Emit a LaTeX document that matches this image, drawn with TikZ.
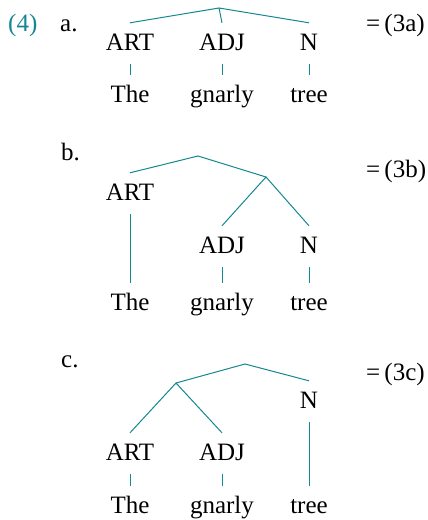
\documentclass[tikz,border=0pt]{standalone}
\usepackage{fontspec}
\setmainfont{Liberation Serif}
\usepackage{xcolor}
\definecolor{exteal}{RGB}{20,135,145}

\begin{document}
\begin{tikzpicture}[
  x=1pt, y=-1pt,
  lbl/.style = {anchor=base, font=\fontsize{25}{28}\selectfont,
                text height=17pt, text depth=4pt, inner xsep=0pt, inner ysep=10pt},
  tag/.style = {anchor=base west, font=\fontsize{25}{28}\selectfont, inner sep=0pt},
  branch/.style = {draw=exteal, line width=1pt}
]
\useasboundingbox (0,0) rectangle (428,520);

% (4a)
\node[tag, text=exteal] (ex) at (8,31) {(4)};
\node[tag] (lab-a) at (60,31) {a.};
\node[tag] (ref-a) at (366,31) {=\,(3a)};
\coordinate (top-a) at (219,8);
\node[lbl] (art-a) at (130,50) {ART};
\node[lbl] (adj-a) at (222,50) {ADJ};
\node[lbl] (n-a) at (309,50) {N};
\node[lbl] (the-a) at (130,102) {The};
\node[lbl] (gn-a) at (222,102) {gnarly};
\node[lbl] (tree-a) at (309,102) {tree};
\draw[branch] (art-a.north) -- (top-a) -- (n-a.north);
\draw[branch] (top-a) -- (adj-a.north);
\draw[branch] (art-a) -- (the-a);
\draw[branch] (adj-a) -- (gn-a);
\draw[branch] (n-a) -- (tree-a);

% (4b)
\node[tag] (lab-b) at (61,160) {b.};
\node[tag] (ref-b) at (366,177) {=\,(3b)};
\coordinate (top-b) at (198,156);
\coordinate (mid-b) at (266,177);
\node[lbl] (art-b) at (130,200) {ART};
\node[lbl] (adj-b) at (222,253) {ADJ};
\node[lbl] (n-b) at (309,253) {N};
\node[lbl] (the-b) at (130,310) {The};
\node[lbl] (gn-b) at (222,310) {gnarly};
\node[lbl] (tree-b) at (309,310) {tree};
\draw[branch] (art-b.north) -- (top-b) -- (mid-b);
\draw[branch] (adj-b.north) -- (mid-b) -- (n-b.north);
\draw[branch] (art-b) -- (the-b);
\draw[branch] (adj-b) -- (gn-b);
\draw[branch] (n-b) -- (tree-b);

% (4c)
\node[tag] (lab-c) at (61,367) {c.};
\node[tag] (ref-c) at (366,380) {=\,(3c)};
\coordinate (top-c) at (245,364);
\coordinate (mid-c) at (176,383);
\node[lbl] (n-c) at (309,408) {N};
\node[lbl] (art-c) at (130,460) {ART};
\node[lbl] (adj-c) at (222,460) {ADJ};
\node[lbl] (the-c) at (130,513) {The};
\node[lbl] (gn-c) at (222,513) {gnarly};
\node[lbl] (tree-c) at (309,513) {tree};
\draw[branch] (mid-c) -- (top-c) -- (n-c.north);
\draw[branch] (art-c.north) -- (mid-c) -- (adj-c.north);
\draw[branch] (art-c) -- (the-c);
\draw[branch] (adj-c) -- (gn-c);
\draw[branch] (n-c) -- (tree-c);
\end{tikzpicture}
\end{document}
